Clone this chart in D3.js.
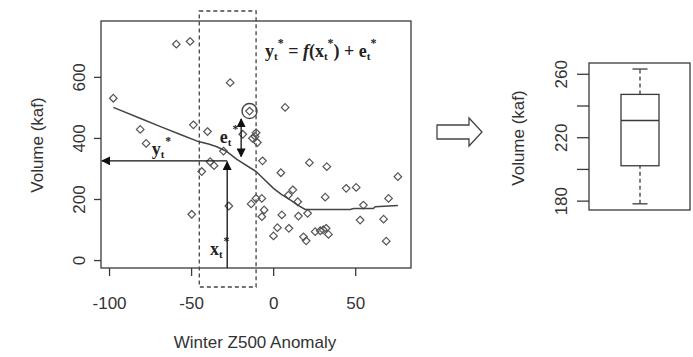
<!DOCTYPE html>
<html>
<head>
<meta charset="utf-8">
<script src="https://cdn.jsdelivr.net/npm/d3@7"></script>
<style>
  body { margin: 0; background: #fff; }
  text { font-family: "Liberation Sans", Arial, sans-serif; fill: #333; }
  text.eq { font-family: "Liberation Serif", "Times New Roman", serif; font-weight: bold; fill: #222; }
</style>
</head>
<body>
<div class="diagram"></div>
<script>
// scatter: winter Z500 anomaly vs volume
const zAnom = [-97.4, -59, -50.6, -81, -77.4, -48.6, -49.6, -40, -43.5, -38.4, -36, -30.3, -26.2, -27,
  -18.5, -14.4, -13.4, -12.6, -10.4, -9.6, -11, -10.4, -6.9, -6.5, -6.9, -5.5, 0.2, 2.6, 4.7, 5.3, 7.3,
  9.3, 9.6, 12, 15, 15.4, 18.5, 20.1, 21, 22.1, 25.6, 28.7, 30.5, 31.7, 32.3, 32.7, 33.7, 44.5, 50.6,
  53, 55, 67.3, 70.3, 68.9, 76];
const volume = [530, 707, 716, 428, 382, 443, 150, 421, 290, 322, 309, 357, 581, 177,
  412, 488, 184, 399, 417, 385, 405, 202, 202, 325, 142, 164, 79, 106, 286, 148, 500,
  213, 104, 230, 191, 144, 76, 63, 153, 319, 93, 96, 99, 206, 104, 306, 84, 235, 238,
  131, 180, 134, 202, 62, 273];

// smooth fit f(x)
const fitX = [-97.4, -80, -69, -55, -45.5, -39.4, -34.3, -28.2, -22.1, -10.4, 0.2, 5, 10.4, 15, 19.5, 30, 47, 49, 61, 62.2, 76];
const fitY = [500, 462, 438, 408, 388, 380, 371, 355, 330, 290, 235, 215, 197, 180, 166, 166, 166, 169, 169, 175, 179];

const xTicks = [-100, -50, 0, 50];
const yTicks = [0, 200, 400, 600];

// annotation values
const windowX = [-45, -10.4];
const xStar = -28, yStar = 325;
const circled = [-14.4, 488];
const errSpan = [-19.5, 339, 462];

// boxplot of resampled volume: min, q1, median, q3, max
const boxStats = [178, 202, 230.5, 247, 263];
const boxTicks = [180, 200, 220, 240, 260];
const boxTickLabels = ["180", "", "220", "", "260"];

const W = 693, H = 357;
const svg = d3.select(".diagram").append("svg").attr("width", W).attr("height", H);
svg.append("rect").attr("width", W).attr("height", H).attr("fill", "#fff");

const ink = "#3a3a3a";
const box = { l: 101, r: 411, t: 21, b: 268 };

const x = d3.scaleLinear().domain([-104.9, 84]).range([box.l, box.r]);
const y = d3.scaleLinear().domain([-26, 783]).range([box.b, box.t]);

const defs = svg.append("defs");
defs.append("marker").attr("id", "head")
  .attr("viewBox", "0 0 10 10").attr("refX", 9).attr("refY", 5)
  .attr("markerWidth", 9).attr("markerHeight", 9).attr("markerUnits", "userSpaceOnUse")
  .attr("orient", "auto-start-reverse")
  .append("path").attr("d", "M0,0 L10,5 L0,10 Z").attr("fill", "#111");

// frame
svg.append("rect").attr("x", box.l).attr("y", box.t)
  .attr("width", box.r - box.l).attr("height", box.b - box.t)
  .attr("fill", "none").attr("stroke", ink).attr("stroke-width", 1.3);

// axes
const xAxis = svg.append("g").attr("transform", `translate(0,${box.b})`)
  .call(d3.axisBottom(x).tickValues(xTicks).tickSize(8).tickSizeOuter(0).tickFormat(d => String(d)));
const yAxis = svg.append("g").attr("transform", `translate(${box.l},0)`)
  .call(d3.axisLeft(y).tickValues(yTicks).tickSize(7).tickSizeOuter(0).tickFormat(d => String(d)));
[xAxis, yAxis].forEach(g => {
  g.select(".domain").remove();
  g.selectAll("line").attr("stroke", ink).attr("stroke-width", 1.3);
  g.selectAll("text").attr("font-size", 17).attr("fill", "#333");
});
xAxis.selectAll(".tick text").attr("y", 36).attr("dy", "0.32em");
yAxis.selectAll(".tick text")
  .attr("x", null)
  .attr("text-anchor", "middle")
  .attr("transform", "translate(-22,0) rotate(-90)")
  .attr("dy", "0.35em");

svg.append("text").attr("x", 255).attr("y", 348).attr("text-anchor", "middle")
  .attr("font-size", 17).text("Winter Z500 Anomaly");
svg.append("text").attr("transform", "translate(37,145) rotate(-90)")
  .attr("text-anchor", "middle").attr("dy", "0.35em").attr("font-size", 17).text("Volume (kaf)");

// dashed window
svg.append("rect").attr("x", x(windowX[0])).attr("y", 11)
  .attr("width", x(windowX[1]) - x(windowX[0])).attr("height", 287 - 11)
  .attr("fill", "none").attr("stroke", "#444").attr("stroke-width", 1.3).attr("stroke-dasharray", "4,3");

// points
const pts = zAnom.map((v, i) => [v, volume[i]]);
svg.append("g").selectAll("path").data(pts).enter().append("path")
  .attr("transform", d => `translate(${x(d[0])},${y(d[1])})`)
  .attr("d", "M0,-3.8 L3.8,0 L0,3.8 L-3.8,0 Z")
  .attr("fill", "none").attr("stroke", "#555").attr("stroke-width", 1.2);

svg.append("circle").attr("cx", x(circled[0])).attr("cy", y(circled[1])).attr("r", 7.5)
  .attr("fill", "none").attr("stroke", "#444").attr("stroke-width", 1.4);

// fitted curve
svg.append("path").datum(fitX.map((v, i) => [v, fitY[i]]))
  .attr("d", d3.line().x(d => x(d[0])).y(d => y(d[1])))
  .attr("fill", "none").attr("stroke", "#444").attr("stroke-width", 1.5);

// arrows x* -> y*
svg.append("line").attr("x1", x(xStar)).attr("y1", box.b).attr("x2", x(xStar)).attr("y2", y(yStar) + 1)
  .attr("stroke", "#111").attr("stroke-width", 1.3).attr("marker-end", "url(#head)");
svg.append("line").attr("x1", x(xStar)).attr("y1", y(yStar)).attr("x2", box.l + 1).attr("y2", y(yStar))
  .attr("stroke", "#111").attr("stroke-width", 1.3).attr("marker-end", "url(#head)");
svg.append("line").attr("x1", x(errSpan[0])).attr("y1", y(errSpan[1])).attr("x2", x(errSpan[0])).attr("y2", y(errSpan[2]))
  .attr("stroke", "#111").attr("stroke-width", 1.3)
  .attr("marker-start", "url(#head)").attr("marker-end", "url(#head)");

// labels with subscript t and superscript *
function starLabel(px, py, base, size) {
  const t = svg.append("text").attr("class", "eq").attr("x", px).attr("y", py).attr("font-size", size);
  t.append("tspan").text(base);
  t.append("tspan").attr("font-size", size * 0.6).attr("dy", 3).text("t");
  t.append("tspan").attr("font-size", size * 0.65).attr("dy", -13).attr("dx", 1).text("*");
  return t;
}
starLabel(x(-74), y(yStar) - 6, "y", 18);
starLabel(x(-38.5), 255, "x", 18);
starLabel(x(-32.5), 143, "e", 18);

const eq = svg.append("text").attr("class", "eq").attr("x", 265).attr("y", 57).attr("font-size", 18);
const sub = 11, sup = 12;
eq.append("tspan").text("y");
eq.append("tspan").attr("font-size", sub).attr("dy", 3).text("t");
eq.append("tspan").attr("font-size", sup).attr("dy", -13).text("*");
eq.append("tspan").attr("dy", 10).text(" = ");
eq.append("tspan").attr("font-style", "italic").text("f");
eq.append("tspan").text("(x");
eq.append("tspan").attr("font-size", sub).attr("dy", 3).text("t");
eq.append("tspan").attr("font-size", sup).attr("dy", -13).text("*");
eq.append("tspan").attr("dy", 10).text(") + e");
eq.append("tspan").attr("font-size", sub).attr("dy", 3).text("t");
eq.append("tspan").attr("font-size", sup).attr("dy", -13).text("*");

// hollow arrow
const ax = 437, ay = 132;
svg.append("path")
  .attr("d", `M${ax},${ay - 7} L${ax + 32},${ay - 7} L${ax + 32},${ay - 14} L${ax + 45},${ay} L${ax + 32},${ay + 14} L${ax + 32},${ay + 7} L${ax},${ay + 7} Z`)
  .attr("fill", "#fff").attr("stroke", "#444").attr("stroke-width", 1.3);

// boxplot panel
const bb = { l: 589, r: 690, t: 63, b: 210 };
const by = d3.scaleLinear().domain([174.1, 266.8]).range([bb.b, bb.t]);
svg.append("rect").attr("x", bb.l).attr("y", bb.t).attr("width", bb.r - bb.l).attr("height", bb.b - bb.t)
  .attr("fill", "none").attr("stroke", ink).attr("stroke-width", 1.3);
const bAxis = svg.append("g").attr("transform", `translate(${bb.l},0)`)
  .call(d3.axisLeft(by).tickValues(boxTicks).tickSize(12).tickSizeOuter(0)
    .tickFormat((d, i) => boxTickLabels[i]));
bAxis.select(".domain").remove();
bAxis.selectAll("line").attr("stroke", ink).attr("stroke-width", 1.3);
bAxis.selectAll(".tick text").attr("x", null).attr("font-size", 17).attr("fill", "#333")
  .attr("text-anchor", "middle").attr("transform", "translate(-28,0) rotate(-90)").attr("dy", "0.35em");
svg.append("text").attr("transform", "translate(518,138) rotate(-90)")
  .attr("text-anchor", "middle").attr("dy", "0.35em").attr("font-size", 17).text("Volume (kaf)");

const bx0 = 621, bx1 = 659, bxc = 640, cap = 7.5;
const g = svg.append("g").attr("stroke", ink).attr("stroke-width", 1.3).attr("fill", "none");
g.append("line").attr("x1", bxc).attr("x2", bxc).attr("y1", by(boxStats[0])).attr("y2", by(boxStats[1])).attr("stroke-dasharray", "4,3");
g.append("line").attr("x1", bxc).attr("x2", bxc).attr("y1", by(boxStats[3])).attr("y2", by(boxStats[4])).attr("stroke-dasharray", "4,3");
g.append("line").attr("x1", bxc - cap).attr("x2", bxc + cap).attr("y1", by(boxStats[0])).attr("y2", by(boxStats[0]));
g.append("line").attr("x1", bxc - cap).attr("x2", bxc + cap).attr("y1", by(boxStats[4])).attr("y2", by(boxStats[4]));
g.append("rect").attr("x", bx0).attr("width", bx1 - bx0).attr("y", by(boxStats[3])).attr("height", by(boxStats[1]) - by(boxStats[3])).attr("fill", "#fff");
g.append("line").attr("x1", bx0).attr("x2", bx1).attr("y1", by(boxStats[2])).attr("y2", by(boxStats[2])).attr("stroke-width", 1.6);
</script>
</body>
</html>
